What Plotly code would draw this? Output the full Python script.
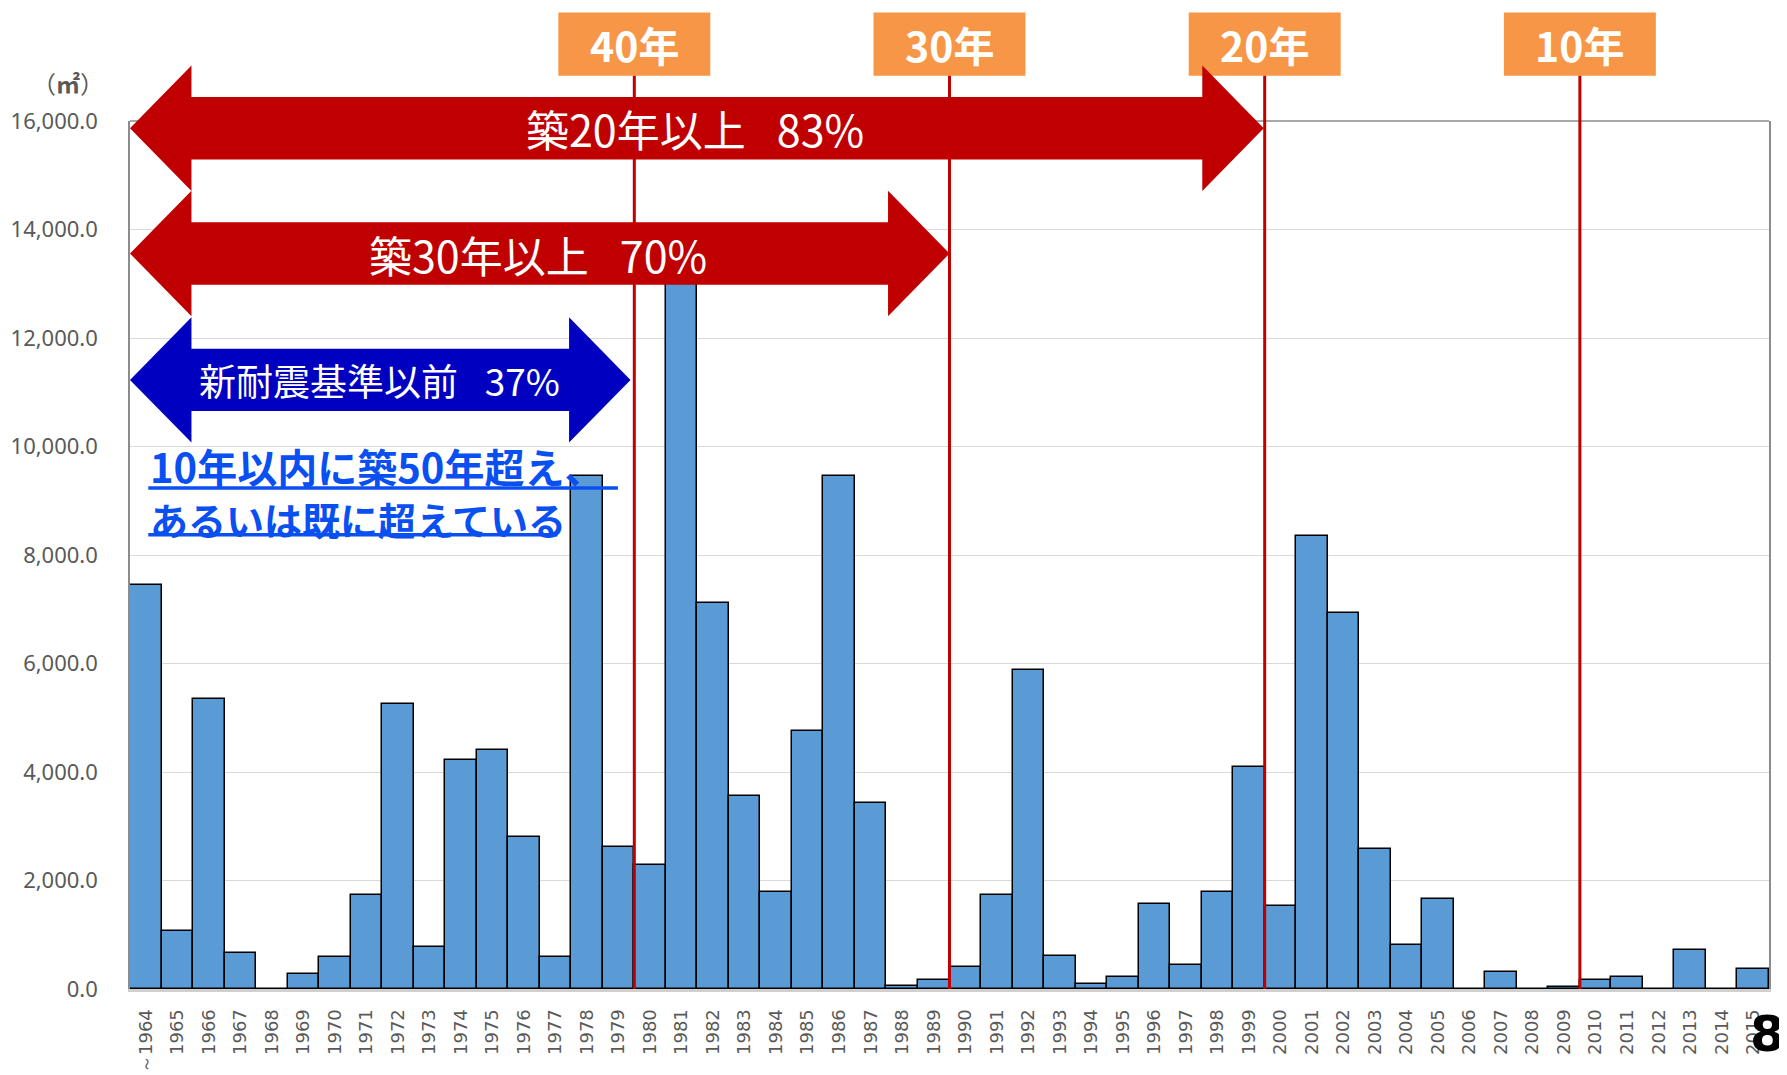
import plotly.graph_objects as go

# ---------------- data ----------------
years = ["～1964"] + [str(y) for y in range(1965, 2016)]
areas = [7450, 1070, 5350, 670, 0, 270, 590, 1740, 5250, 780,
         4220, 4410, 2810, 590, 9460, 2620, 2290, 13300, 7115, 3550,
         1780, 4760, 9460, 3420, 60, 170, 400, 1740, 5880, 610,
         100, 230, 1570, 440, 1780, 4090, 1530, 8350, 6930, 2580,
         820, 1660, 0, 310, 0, 40, 170, 230, 0, 710,
         0, 360]
age_labels = ["40年", "30年", "20年", "10年"]
age_boundaries = [15.5, 25.5, 35.5, 45.5]   # category boundaries (between years)
ytick_vals = [0, 2000, 4000, 6000, 8000, 10000, 12000, 14000, 16000]

N = len(years)
YMAX = 16000
L, R, T, B = 122, 26, 113, 94
W, H = 1787, 1075
PW = W - L - R
PH = H - T - B

def px(c):
    return (c + 0.5) / N

def py(v):
    return v / YMAX

fig = go.Figure()
fig.add_trace(go.Bar(
    x=list(range(N)), y=areas,
    marker=dict(color="#5B9BD5", line=dict(color="#000000", width=1.5)),
    width=1.0,
))

shapes = []
# orange boxes
for lab, b in zip(age_labels, age_boundaries):
    shapes.append(dict(type="rect", xref="paper", yref="paper",
                       x0=px(b - 2.41), x1=px(b + 2.41), y0=1.052, y1=1.125,
                       fillcolor="#F79646", line=dict(width=0), layer="above"))
# red vertical lines
for b in age_boundaries:
    shapes.append(dict(type="line", xref="paper", yref="paper",
                       x0=px(b), x1=px(b), y0=0, y1=1.052,
                       line=dict(color="#C00000", width=3), layer="above"))
# top border
shapes.append(dict(type="line", xref="paper", yref="paper", x0=0, x1=1, y0=1, y1=1,
                   line=dict(color="#8C8C8C", width=1.5), layer="below"))


def arrow(xl, xr, yc, color, head=1.95, shaft=575, hh=1155):
    xa, xb = px(xl), px(xl + head)
    xc, xd = px(xr - head), px(xr)
    st, sb = py(yc + shaft), py(yc - shaft)
    ht, hb = py(yc + hh), py(yc - hh)
    m = py(yc)
    path = (f"M {xa},{m} L {xb},{ht} L {xb},{st} L {xc},{st} L {xc},{ht} "
            f"L {xd},{m} L {xc},{hb} L {xc},{sb} L {xb},{sb} L {xb},{hb} Z")
    return dict(type="path", xref="paper", yref="paper", path=path,
                fillcolor=color, line=dict(width=0), layer="above")

shapes.append(arrow(-0.5, 35.47, 15866, "#C00000"))
shapes.append(arrow(-0.5, 25.5, 13557, "#C00000"))
shapes.append(arrow(-0.5, 15.38, 11228, "#0000C0"))

# underlines of the blue note
shapes.append(dict(type="line", xref="paper", yref="paper",
                   x0=px(0.08), x1=px(14.98), y0=py(9234), y1=py(9234),
                   line=dict(color="#0A50F0", width=3.5), layer="above"))
shapes.append(dict(type="line", xref="paper", yref="paper",
                   x0=px(0.08), x1=px(13.06), y0=py(8374), y1=py(8374),
                   line=dict(color="#0A50F0", width=3.5), layer="above"))

annotations = []
for lab, b in zip(age_labels, age_boundaries):
    annotations.append(dict(xref="paper", yref="paper", x=px(b), y=1.089,
                            text=f"<b>{lab}</b>", showarrow=False,
                            font=dict(family="Noto Sans CJK JP", size=41, color="white"),
                            xanchor="center", yanchor="middle"))

SP = "\u2002 "
annotations.append(dict(xref="paper", yref="paper", x=px(17.44), y=py(15866),
                        text=f"築20年以上{SP}83%", showarrow=False,
                        font=dict(family="Noto Sans CJK JP", size=43, color="white"),
                        xanchor="center", yanchor="middle"))
annotations.append(dict(xref="paper", yref="paper", x=px(12.45), y=py(13557),
                        text=f"築30年以上{SP}70%", showarrow=False,
                        font=dict(family="Noto Sans CJK JP", size=43, color="white"),
                        xanchor="center", yanchor="middle"))
annotations.append(dict(xref="paper", yref="paper", x=px(7.42), y=py(11228),
                        text=f"新耐震基準以前{SP}37%", showarrow=False,
                        font=dict(family="Noto Sans CJK JP", size=37, color="white"),
                        xanchor="center", yanchor="middle"))

annotations.append(dict(xref="paper", yref="paper", x=px(0.08), y=py(9170),
                        text=("<b>10年以内に築50年超え、<br>"
                              "<span style='font-size:38px'>あるいは既に超えている</span></b>"),
                        showarrow=False, align="left",
                        font=dict(family="Noto Sans CJK JP", size=40, color="#0A50F0"),
                        xanchor="left", yanchor="middle"))

annotations.append(dict(xref="paper", yref="paper", x=(60 - L) / PW, y=(H - B - 75) / PH,
                        text="（<b>㎡</b>）", showarrow=False,
                        font=dict(family="Noto Sans CJK JP", size=24, color="#595959"),
                        xanchor="center", yanchor="middle"))

annotations.append(dict(xref="paper", yref="paper", x=(1779 - L) / PW, y=(H - B - 1026) / PH,
                        text="<b>8</b>", showarrow=False,
                        font=dict(family="DejaVu Sans", size=50, color="black"),
                        xanchor="right", yanchor="middle"))

fig.update_layout(
    width=W, height=H,
    margin=dict(l=L, r=R, t=T, b=B),
    paper_bgcolor="white", plot_bgcolor="white",
    bargap=0, showlegend=False,
    shapes=shapes, annotations=annotations,
    xaxis=dict(range=[-0.5, N - 0.5], tickmode="array",
               tickvals=list(range(N)), ticktext=years, tickangle=-90,
               tickfont=dict(family="DejaVu Sans", size=18, color="#595959"),
               showgrid=False, showline=True, linecolor="#D0D0D0", linewidth=3,
               ticks="", zeroline=False, ticklabelstandoff=10, automargin=False),
    yaxis=dict(range=[0, YMAX], tickmode="array", tickvals=ytick_vals,
               tickformat=",.1f",
               tickfont=dict(family="Noto Sans", size=22, color="#595959"),
               showgrid=True, gridcolor="#D9D9D9", gridwidth=1,
               showline=True, linecolor="#8C8C8C", linewidth=1.5, mirror=True,
               zeroline=False, ticks="", ticklabelstandoff=26, automargin=False),
)

fig.write_html("out.html")
